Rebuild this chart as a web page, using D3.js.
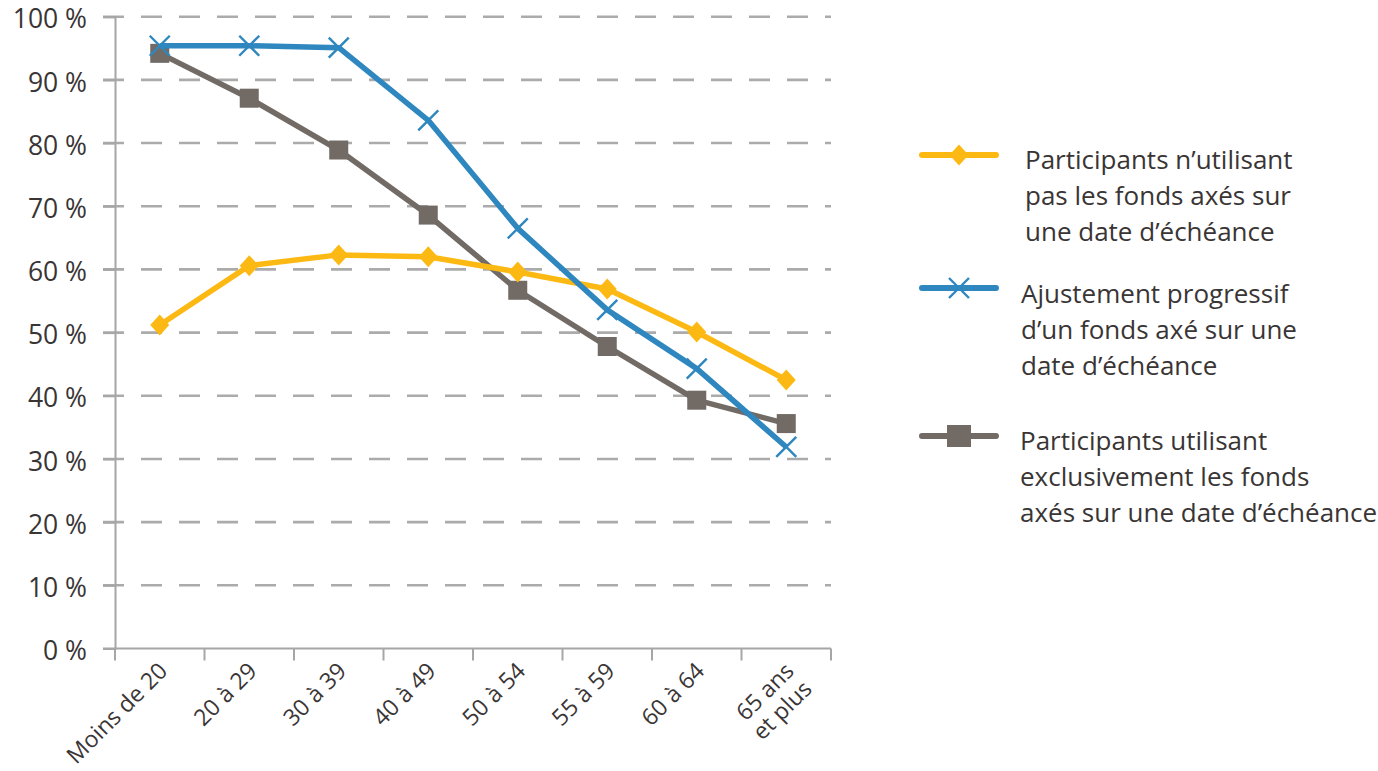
<!DOCTYPE html>
<html lang="fr">
<head>
<meta charset="utf-8">
<script src="https://cdn.jsdelivr.net/npm/d3@7"></script>
<style>
  html, body { margin: 0; padding: 0; background: #fff; }
  svg text { font-family: "Open Sans", "Noto Sans", sans-serif; fill: #3a3535; }
</style>
</head>
<body>
<svg id="chart" width="1378" height="771"></svg>
<script>
// Age groups along the horizontal axis
const categories = ["Moins de 20", "20 à 29", "30 à 39", "40 à 49", "50 à 54", "55 à 59", "60 à 64", "65 ans\net plus"];

// Share of participants (%) per age group
const sansFondsEcheance = [51.2, 60.6, 62.3, 62.0, 59.6, 56.9, 50.1, 42.5];
const ajustementProgressif = [95.4, 95.4, 95.1, 83.6, 66.5, 53.6, 44.3, 31.9];
const exclusivementEcheance = [94.2, 87.1, 78.9, 68.6, 56.7, 47.8, 39.3, 35.6];

const yTicks = [0, 10, 20, 30, 40, 50, 60, 70, 80, 90, 100];

const legendLabels = [
  ["Participants n\u2019utilisant", "pas les fonds axés sur", "une date d\u2019échéance"],
  ["Ajustement progressif", "d\u2019un fonds axé sur une", "date d\u2019échéance"],
  ["Participants utilisant", "exclusivement les fonds", "axés sur une date d\u2019échéance"]
];

const COLORS = { yellow: "#fdb913", blue: "#2f87bf", gray: "#716a65", axis: "#a6a6a6", grid: "#ababab" };

const svg = d3.select("#chart");

const x = d3.scaleBand().domain(categories).range([115, 831]);
const y = d3.scaleLinear().domain([0, 100]).range([648.5, 16.7]);

// Dashed horizontal gridlines
svg.append("g").selectAll("line")
  .data(yTicks.filter(t => t > 0))
  .join("line")
  .attr("x1", 103).attr("x2", 831)
  .attr("y1", d => y(d)).attr("y2", d => y(d))
  .attr("stroke", COLORS.grid)
  .attr("stroke-width", 2.6)
  .attr("stroke-dasharray", "21,17");

// Y axis
const yAxis = d3.axisLeft(y).tickValues(yTicks).tickSize(12).tickPadding(16)
  .tickFormat(d => d + "\u00a0%");
const gy = svg.append("g").attr("transform", "translate(115,0)").call(yAxis);
gy.select(".domain").attr("stroke", COLORS.axis).attr("stroke-width", 2);
gy.selectAll(".tick line").attr("stroke", COLORS.axis).attr("stroke-width", 2);
gy.selectAll(".tick text").attr("font-size", 26.5).attr("fill", "#3a3535")
  .attr("font-family", "'Open Sans', sans-serif").attr("dy", "0.42em");

// X axis: baseline and ticks at band boundaries
svg.append("line")
  .attr("x1", 103).attr("x2", 831)
  .attr("y1", y(0)).attr("y2", y(0))
  .attr("stroke", COLORS.axis).attr("stroke-width", 2);
const boundaries = categories.map(c => x(c)).concat([x.range()[1]]);
svg.append("g").selectAll("line")
  .data(boundaries)
  .join("line")
  .attr("x1", d => d).attr("x2", d => d)
  .attr("y1", y(0)).attr("y2", y(0) + 12)
  .attr("stroke", COLORS.axis).attr("stroke-width", 2);

// Rotated category labels
const cx = c => x(c) + x.bandwidth() / 2;
const xl = svg.append("g").selectAll("text")
  .data(categories)
  .join("text")
  .attr("transform", c => `translate(${cx(c) + 9},${y(0) + 24}) rotate(-45)`)
  .attr("text-anchor", "end")
  .attr("font-size", 23);
xl.each(function (c) {
  const lines = c.split("\n");
  const t = d3.select(this);
  lines.forEach((ln, i) => {
    t.append("tspan")
      .attr("x", 0)
      .attr("dy", i === 0 ? 0 : "1.1em")
      .text(ln);
  });
});

// Series lines and markers
const line = d3.line().x((d, i) => cx(categories[i])).y(d => y(d));

const series = [
  { key: "gray", values: exclusivementEcheance, marker: "square" },
  { key: "yellow", values: sansFondsEcheance, marker: "diamond" },
  { key: "blue", values: ajustementProgressif, marker: "cross" }
];

function drawMarker(g, type, color) {
  if (type === "square") {
    g.append("rect").attr("x", -9.5).attr("y", -9.5).attr("width", 19).attr("height", 19).attr("fill", color);
  } else if (type === "diamond") {
    g.append("path").attr("d", "M0,-10.5L9.5,0L0,10.5L-9.5,0Z").attr("fill", color);
  } else {
    g.append("path").attr("d", "M-10,-10L10,10M-10,10L10,-10")
      .attr("stroke", color).attr("stroke-width", 2.4).attr("fill", "none");
  }
}

series.forEach(s => {
  svg.append("path")
    .datum(s.values)
    .attr("d", line)
    .attr("fill", "none")
    .attr("stroke", COLORS[s.key])
    .attr("stroke-width", 5.5)
    .attr("stroke-linejoin", "round");
  svg.append("g").selectAll("g")
    .data(s.values)
    .join("g")
    .attr("transform", (d, i) => `translate(${cx(categories[i])},${y(d)})`)
    .each(function () { drawMarker(d3.select(this), s.marker, COLORS[s.key]); });
});

// Legend
const legendItems = [
  { key: "yellow", marker: "diamond", lines: legendLabels[0], sy: 155, tx: 1025, ty: 160 },
  { key: "blue", marker: "cross", lines: legendLabels[1], sy: 288, tx: 1021, ty: 294 },
  { key: "gray", marker: "square", lines: legendLabels[2], sy: 436, tx: 1020, ty: 441 }
];
legendItems.forEach(it => {
  const g = svg.append("g");
  g.append("line")
    .attr("x1", 922).attr("x2", 996)
    .attr("y1", it.sy).attr("y2", it.sy)
    .attr("stroke", COLORS[it.key]).attr("stroke-width", 6).attr("stroke-linecap", "round");
  const m = g.append("g").attr("transform", `translate(959,${it.sy})`);
  if (it.marker === "square") {
    m.append("rect").attr("x", -12).attr("y", -11).attr("width", 24).attr("height", 22).attr("fill", COLORS[it.key]);
  } else {
    drawMarker(m, it.marker, COLORS[it.key]);
  }
  const t = g.append("text").attr("x", it.tx).attr("y", it.ty).attr("font-size", 26);
  it.lines.forEach((ln, i) => {
    t.append("tspan").attr("x", it.tx).attr("dy", i === 0 ? "0.35em" : "1.39em").text(ln);
  });
});
</script>
</body>
</html>
